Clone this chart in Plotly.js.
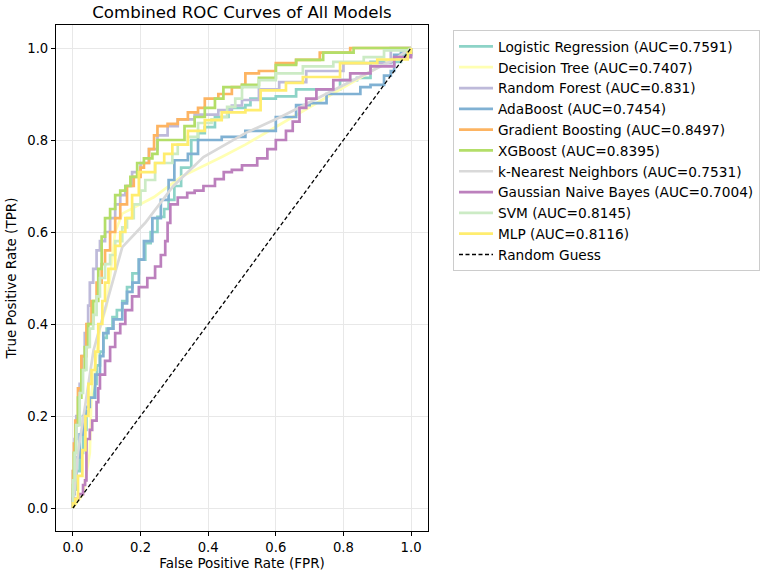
<!DOCTYPE html>
<html>
<head>
<meta charset="utf-8">
<script src="https://cdn.plot.ly/plotly-3.0.1.min.js"></script>
<style>html,body{margin:0;padding:0;background:#fff;}#chart{width:767px;height:576px;}</style>
</head>
<body>
<div id="chart"></div>
<script>
// ---- Data ----
const lrFpr = [0, 0, 0.01, 0.02, 0.03, 0.04, 0.05, 0.06, 0.07, 0.08, 0.09, 0.10, 0.117, 0.13, 0.146, 0.16, 0.176, 0.195, 0.214, 0.23, 0.25, 0.27, 0.283, 0.30, 0.32, 0.35, 0.37, 0.39, 0.42, 0.46, 0.51, 0.525, 0.6, 0.66, 0.73, 0.79, 0.84, 0.88, 0.94, 0.97, 1.0];
const lrTpr = [0, 0.04, 0.08, 0.12, 0.17, 0.21, 0.24, 0.27, 0.31, 0.34, 0.37, 0.39, 0.415, 0.43, 0.45, 0.48, 0.51, 0.54, 0.576, 0.60, 0.633, 0.65, 0.67, 0.70, 0.74, 0.80, 0.815, 0.828, 0.85, 0.87, 0.876, 0.89, 0.895, 0.91, 0.91, 0.93, 0.935, 0.97, 0.97, 0.985, 1.0];

const dtFpr = [0, 0.03, 0.05, 0.055, 0.08, 0.10, 0.125, 0.146, 0.24, 0.32, 0.44, 0.51, 1.0];
const dtTpr = [0, 0.03, 0.12, 0.25, 0.39, 0.44, 0.60, 0.64, 0.676, 0.72, 0.763, 0.79, 1.0];

const rfFpr = [0, 0, 0.005, 0.01, 0.02, 0.027, 0.035, 0.045, 0.05, 0.06, 0.07, 0.08, 0.095, 0.11, 0.125, 0.14, 0.155, 0.175, 0.2, 0.225, 0.25, 0.28, 0.31, 0.36, 0.43, 0.47, 0.5, 0.55, 0.61, 0.69, 0.8, 0.94, 1.0];
const rfTpr = [0, 0.08, 0.15, 0.2, 0.27, 0.33, 0.38, 0.44, 0.49, 0.52, 0.56, 0.58, 0.60, 0.63, 0.66, 0.68, 0.70, 0.73, 0.75, 0.78, 0.81, 0.83, 0.845, 0.855, 0.865, 0.875, 0.887, 0.91, 0.926, 0.95, 0.967, 1.0, 1.0];

const adaFpr = [0, 0, 0.005, 0.01, 0.02, 0.03, 0.037, 0.05, 0.066, 0.08, 0.09, 0.105, 0.12, 0.146, 0.16, 0.176, 0.195, 0.21, 0.235, 0.26, 0.283, 0.3, 0.34, 0.37, 0.44, 0.51, 0.555, 0.6, 0.66, 0.7, 0.75, 0.8, 0.85, 0.88, 0.92, 0.94, 0.95, 0.97, 1.0];
const adaTpr = [0, 0.03, 0.07, 0.11, 0.16, 0.2, 0.22, 0.24, 0.29, 0.33, 0.38, 0.39, 0.41, 0.445, 0.47, 0.49, 0.54, 0.58, 0.63, 0.67, 0.713, 0.756, 0.77, 0.80, 0.807, 0.82, 0.82, 0.85, 0.876, 0.88, 0.90, 0.90, 0.915, 0.92, 0.94, 0.95, 0.985, 0.99, 1.0];

const gbFpr = [0, 0, 0.003, 0.007, 0.015, 0.025, 0.04, 0.055, 0.07, 0.085, 0.095, 0.11, 0.125, 0.14, 0.16, 0.18, 0.2, 0.21, 0.225, 0.24, 0.25, 0.28, 0.31, 0.34, 0.37, 0.39, 0.43, 0.47, 0.5, 0.51, 0.55, 0.6, 0.66, 0.73, 0.82, 1.0];
const gbTpr = [0, 0.08, 0.14, 0.19, 0.26, 0.33, 0.40, 0.45, 0.49, 0.53, 0.56, 0.60, 0.63, 0.66, 0.70, 0.72, 0.74, 0.75, 0.78, 0.81, 0.83, 0.835, 0.845, 0.86, 0.87, 0.89, 0.90, 0.915, 0.92, 0.945, 0.95, 0.967, 0.974, 0.99, 1.0, 1.0];

const xgbFpr = [0, 0, 0.003, 0.008, 0.015, 0.025, 0.035, 0.045, 0.06, 0.075, 0.085, 0.095, 0.11, 0.125, 0.14, 0.155, 0.17, 0.19, 0.21, 0.235, 0.25, 0.31, 0.33, 0.36, 0.39, 0.42, 0.445, 0.5, 0.55, 0.6, 0.66, 0.74, 0.83, 1.0];
const xgbTpr = [0, 0.05, 0.12, 0.18, 0.24, 0.30, 0.35, 0.40, 0.45, 0.52, 0.59, 0.63, 0.65, 0.68, 0.69, 0.70, 0.72, 0.75, 0.76, 0.77, 0.80, 0.80, 0.83, 0.85, 0.87, 0.89, 0.915, 0.92, 0.935, 0.963, 0.974, 0.99, 1.0, 1.0];

const knnFpr = [0, 0.015, 0.061, 0.146, 0.214, 0.297, 0.386, 0.51, 0.614, 0.95, 1.0];
const knnTpr = [0, 0.12, 0.343, 0.567, 0.62, 0.70, 0.763, 0.815, 0.85, 0.975, 1.0];

const gnbFpr = [0, 0, 0.016, 0.03, 0.036, 0.04, 0.05, 0.057, 0.07, 0.075, 0.08, 0.095, 0.11, 0.125, 0.14, 0.155, 0.175, 0.195, 0.22, 0.243, 0.26, 0.273, 0.28, 0.288, 0.31, 0.338, 0.36, 0.386, 0.42, 0.446, 0.47, 0.5, 0.545, 0.575, 0.6, 0.63, 0.65, 0.67, 0.69, 0.72, 0.77, 0.82, 0.88, 0.95, 1.0];
const gnbTpr = [0, 0.02, 0.03, 0.05, 0.06, 0.15, 0.17, 0.19, 0.23, 0.26, 0.29, 0.32, 0.35, 0.38, 0.40, 0.43, 0.46, 0.48, 0.50, 0.525, 0.55, 0.58, 0.62, 0.66, 0.675, 0.685, 0.69, 0.70, 0.715, 0.73, 0.735, 0.745, 0.76, 0.78, 0.80, 0.82, 0.84, 0.87, 0.89, 0.91, 0.93, 0.945, 0.96, 0.98, 1.0];

const svmFpr = [0, 0, 0.005, 0.01, 0.02, 0.03, 0.04, 0.05, 0.06, 0.07, 0.08, 0.095, 0.11, 0.125, 0.146, 0.16, 0.18, 0.2, 0.214, 0.243, 0.294, 0.31, 0.34, 0.37, 0.41, 0.44, 0.456, 0.48, 0.5, 0.55, 0.6, 0.68, 0.77, 0.86, 0.92, 1.0];
const svmTpr = [0, 0.06, 0.12, 0.18, 0.25, 0.30, 0.35, 0.39, 0.42, 0.46, 0.50, 0.53, 0.55, 0.58, 0.61, 0.63, 0.66, 0.69, 0.713, 0.75, 0.77, 0.79, 0.807, 0.837, 0.845, 0.85, 0.872, 0.89, 0.915, 0.93, 0.945, 0.96, 0.97, 0.98, 0.995, 1.0];

const mlpFpr = [0, 0, 0.007, 0.015, 0.028, 0.037, 0.046, 0.055, 0.066, 0.075, 0.087, 0.095, 0.105, 0.125, 0.14, 0.155, 0.175, 0.195, 0.243, 0.27, 0.294, 0.34, 0.39, 0.44, 0.51, 0.555, 0.63, 0.68, 0.79, 0.9, 0.99, 1.0];
const mlpTpr = [0, 0.01, 0.02, 0.07, 0.126, 0.20, 0.27, 0.30, 0.34, 0.40, 0.45, 0.49, 0.52, 0.57, 0.60, 0.63, 0.68, 0.73, 0.75, 0.77, 0.79, 0.82, 0.843, 0.86, 0.865, 0.908, 0.924, 0.937, 0.967, 0.975, 0.99, 1.0];

const guessX = [0, 1];
const guessY = [0, 1];

const modelNames = ["Logistic Regression (AUC=0.7591)", "Decision Tree (AUC=0.7407)", "Random Forest (AUC=0.831)", "AdaBoost (AUC=0.7454)", "Gradient Boosting (AUC=0.8497)", "XGBoost (AUC=0.8395)", "k-Nearest Neighbors (AUC=0.7531)", "Gaussian Naive Bayes (AUC=0.7004)", "SVM (AUC=0.8145)", "MLP (AUC=0.8116)"];
const modelColors = ["#8dd3c7", "#ffffb3", "#bebada", "#80b1d3", "#fdb462", "#b3de69", "#d9d9d9", "#bc80bd", "#ccebc5", "#ffed6f"];
const modelShapes = ["hv", "linear", "hv", "hv", "hv", "hv", "linear", "hv", "hv", "hv"];
const xs = [lrFpr, dtFpr, rfFpr, adaFpr, gbFpr, xgbFpr, knnFpr, gnbFpr, svmFpr, mlpFpr];
const ys = [lrTpr, dtTpr, rfTpr, adaTpr, gbTpr, xgbTpr, knnTpr, gnbTpr, svmTpr, mlpTpr];

const traces = modelNames.map((n, i) => ({
  x: xs[i], y: ys[i], type: 'scatter', mode: 'lines', name: n,
  line: {color: modelColors[i], width: 2.7, shape: modelShapes[i]}
}));
traces.push({x: guessX, y: guessY, type: 'scatter', mode: 'lines', name: 'Random Guess',
  line: {color: '#000000', width: 1.3, dash: '4px,2.5px'}});

const fontFam = 'DejaVu Sans, sans-serif';
const axisCommon = {
  range: [-0.05, 1.05], tickvals: [0, 0.2, 0.4, 0.6, 0.8, 1.0], tickformat: '.1f',
  showline: true, mirror: true, linecolor: '#000', linewidth: 1.1,
  ticks: 'outside', ticklen: 4, tickwidth: 1, tickcolor: '#000',
  showgrid: true, gridcolor: '#e8e8e8', gridwidth: 1, zeroline: false,
  tickfont: {family: fontFam, size: 13.2, color: '#000'}
};

const layout = {
  width: 767, height: 576,
  margin: {l: 56, r: 339, t: 25, b: 45},
  paper_bgcolor: '#fff', plot_bgcolor: '#fff',
  font: {family: fontFam, color: '#000'},
  title: {text: 'Combined ROC Curves of All Models', font: {family: fontFam, size: 16.6, color: '#000'},
    x: 0.5, xref: 'paper', xanchor: 'center', y: 1 - 12/576, yref: 'container', yanchor: 'middle'},
  xaxis: Object.assign({}, axisCommon, {title: {text: 'False Positive Rate (FPR)', font: {family: fontFam, size: 13.5}, standoff: 4}}),
  yaxis: Object.assign({}, axisCommon, {title: {text: 'True Positive Rate (TPR)', font: {family: fontFam, size: 13.5}, standoff: 7}}),
  showlegend: true,
  legend: {xref: 'container', yref: 'container', x: 453/767, xanchor: 'left', y: 1 - 30/576, yanchor: 'top',
    bgcolor: '#fff', itemwidth: 34,
    bordercolor: '#cccccc', borderwidth: 1, font: {family: fontFam, size: 13.7, color: '#000'}}
};

Plotly.newPlot('chart', traces, layout, {displayModeBar: false, staticPlot: true});
</script>
</body>
</html>
